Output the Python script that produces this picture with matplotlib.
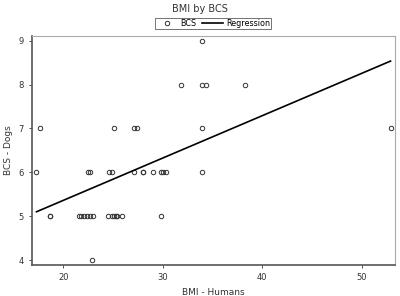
import numpy as np
import matplotlib.pyplot as plt

# BMI of owners vs body condition score of their dogs
bcs_9 = [33.9]
bcs_8 = [31.8, 33.9, 34.3, 38.3]
bcs_7 = [17.7, 25.1, 27.1, 27.4, 33.9, 52.9]
bcs_6 = [17.3, 22.5, 22.7, 24.6, 24.9, 27.1, 28.0, 28.0, 29.0, 29.8, 30.0, 30.3, 33.9]
bcs_5 = [18.7, 18.7, 21.6, 21.8, 22.1, 22.4, 22.7, 23.0, 24.5, 24.9, 25.1, 25.3,
         25.4, 25.9, 29.8]
bcs_4 = [22.85]

bmi = np.array(bcs_9 + bcs_8 + bcs_7 + bcs_6 + bcs_5 + bcs_4)
bcs = np.array([9] * len(bcs_9) + [8] * len(bcs_8) + [7] * len(bcs_7)
               + [6] * len(bcs_6) + [5] * len(bcs_5) + [4] * len(bcs_4))

xticks = [20, 30, 40, 50]
yticks = [4, 5, 6, 7, 8, 9]

# regression coefficients as drawn in the original
reg_intercept = 3.43
reg_slope = 0.0965
xfit = np.array([bmi.min(), bmi.max()])
yfit = reg_intercept + reg_slope * xfit

fig = plt.figure(figsize=(4, 2.96), dpi=100)
ax = fig.add_axes([0.08, 0.1047, 0.9075, 0.7737])

ax.plot(bmi, bcs, 'o', mfc='none', mec='#333333', ms=3.2, mew=0.7, label='BCS')
ax.plot(xfit, yfit, color='black', lw=1.2, label='Regression')

ax.set_xlim(16.85, 53.35)
ax.set_ylim(3.886, 9.107)
ax.set_xticks(xticks)
ax.set_yticks(yticks)
ax.tick_params(labelsize=6, length=2.5, width=0.6, colors='#333333')

for side in ['left', 'bottom']:
    ax.spines[side].set_color('#555555')
    ax.spines[side].set_linewidth(1.2)
for side in ['top', 'right']:
    ax.spines[side].set_color('#aaaaaa')
    ax.spines[side].set_linewidth(0.8)

ax.set_xlabel('BMI - Humans', fontsize=6.5, color='#333333', labelpad=4)
ax.set_ylabel('BCS - Dogs', fontsize=6.5, color='#333333', labelpad=4)

fig.text(0.5, 0.968, 'BMI by BCS', ha='center', va='center', fontsize=7, color='#333333')
leg = fig.legend(loc='center', bbox_to_anchor=(0.533, 0.921), ncol=2, fontsize=5.8,
                 frameon=True, fancybox=False, borderpad=0.15, handlelength=2.6,
                 columnspacing=0.8, handletextpad=0.3, borderaxespad=0)
leg.get_frame().set_edgecolor('#333333')
leg.get_frame().set_linewidth(0.6)

fig.savefig('out.png', dpi=100)
